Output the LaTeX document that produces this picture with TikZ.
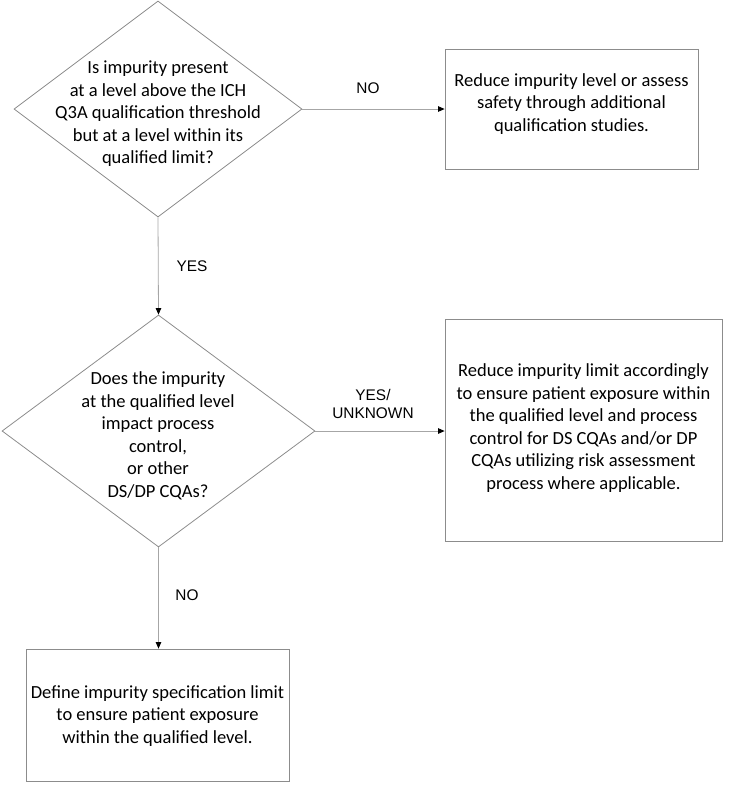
\documentclass[tikz,border=0pt]{standalone}
\usepackage{fontspec}
\setmainfont{Carlito}
\newfontfamily\labelfont{Liberation Sans}
\usetikzlibrary{shapes.geometric,arrows.meta}
\definecolor{shapegray}{HTML}{8C8C8C}
\definecolor{linegray}{HTML}{A6A6A6}
\tikzset{
  dia/.style={draw=shapegray, line width=0.8pt, shape=diamond, inner sep=0pt},
  boxnode/.style={draw=shapegray, line width=0.8pt, rectangle, inner sep=0pt},
  txt/.style={align=center, font=\fontsize{18.5}{22.5}\selectfont, inner sep=0pt},
  lbl/.style={align=center, font=\labelfont\fontsize{15.4}{18}\selectfont, inner sep=0pt},
  conn/.style={draw=linegray, line width=0.8pt, -{Triangle[black,length=6.5pt,width=5.5pt]}}
}
\begin{document}
\begin{tikzpicture}[x=1pt,y=-1pt]
\useasboundingbox (0,0) rectangle (750,793);
% decision 1
\node[dia, minimum width=288pt, minimum height=216pt] (d1) at (158,109) {};
\node[txt] (t1) at (158,114) {Is impurity present\\at a level above the ICH\\Q3A qualification threshold\\but at a level within its\\qualified limit?};
% box 1
\node[boxnode, minimum width=253pt, minimum height=120pt] (b1) at (571.5,109) {};
\node[txt] (tb1) at (571.5,104) {Reduce impurity level or assess\\safety through additional\\qualification studies.};
% decision 2
\node[dia, minimum width=313pt, minimum height=232pt] (d2) at (158.5,431) {};
\node[txt] (t2) at (158,436) {Does the impurity\\at the qualified level\\impact process\\control,\\or other\\DS/DP CQAs?};
% box 2
\node[boxnode, minimum width=277pt, minimum height=222pt] (b2) at (583.5,430) {};
\node[txt] (tb2) at (583.5,428) {Reduce impurity limit accordingly\\to ensure patient exposure within\\the qualified level and process\\control for DS CQAs and/or DP\\CQAs utilizing risk assessment\\process where applicable.};
% box 3
\node[boxnode, minimum width=263pt, minimum height=132pt] (b3) at (157.5,715) {};
\node[txt] (tb3) at (157.5,716) {Define impurity specification limit\\to ensure patient exposure\\within the qualified level.};
% connectors
\draw[conn] (d1.east) -- (b1.west);
\draw[conn] (d1.south) -- (d2.north);
\draw[conn] (d2.east) -- (b2.west |- d2.east);
\draw[conn] (d2.south) -- (b3.north -| d2.south);
% labels
\node[lbl] (l1) at (368,88) {NO};
\node[lbl] (l2) at (192,266) {YES};
\node[lbl] (l3) at (373,404) {YES/\\UNKNOWN};
\node[lbl] (l4) at (187,595) {NO};
\end{tikzpicture}
\end{document}
